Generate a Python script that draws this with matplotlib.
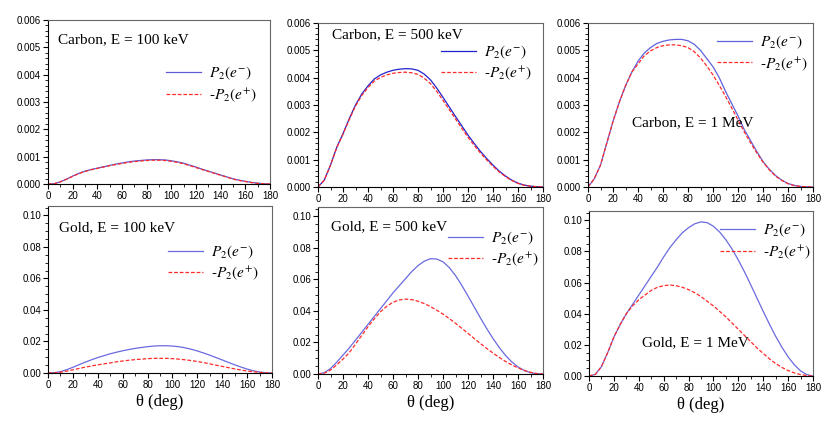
import numpy as np
import matplotlib
matplotlib.use("Agg")
import matplotlib.pyplot as plt
from matplotlib.ticker import MultipleLocator, AutoMinorLocator, FormatStrFormatter

plt.rcParams['font.family'] = ['Liberation Sans', 'DejaVu Sans']
plt.rcParams['mathtext.fontset'] = 'stix'

theta = list(range(0, 181, 5))

carbon_100_em = [0, 0.00001, 0.00008, 0.00018, 0.00029, 0.00039, 0.00047, 0.00053, 0.00058, 0.00063,
                 0.00068, 0.00073, 0.00077, 0.00081, 0.00084, 0.00086, 0.00088, 0.00089, 0.00089, 0.00088,
                 0.00085, 0.00081, 0.00076, 0.00069, 0.00062, 0.00054, 0.00047, 0.00040, 0.00033, 0.00026,
                 0.00019, 0.00014, 0.00010, 0.00006, 0.00003, 0.00001, 0]
carbon_100_ep = [0, 0.00001, 0.00008, 0.00017, 0.00028, 0.00038, 0.00046, 0.00052, 0.00057, 0.00062,
                 0.00067, 0.00071, 0.00075, 0.00079, 0.00082, 0.00084, 0.00086, 0.00087, 0.00087, 0.00086,
                 0.00083, 0.00079, 0.00074, 0.00067, 0.00060, 0.00053, 0.00046, 0.00039, 0.00032, 0.00025,
                 0.00018, 0.00013, 0.00009, 0.00005, 0.00002, 0.00001, 0]

carbon_500_em = [0, 0.00025, 0.0008, 0.00145, 0.00195, 0.0025, 0.0030, 0.0034, 0.0037, 0.00395,
                 0.0041, 0.0042, 0.00427, 0.00431, 0.00433, 0.00432, 0.00427, 0.00413, 0.00392, 0.00362,
                 0.00328, 0.00293, 0.00258, 0.00224, 0.0019, 0.00159, 0.0013, 0.00104, 0.0008, 0.00058,
                 0.0004, 0.00025, 0.00014, 0.00007, 0.00003, 0.00001, 0]
carbon_500_ep = [0, 0.00025, 0.0008, 0.00144, 0.00193, 0.00247, 0.00296, 0.00335, 0.00364, 0.00387,
                 0.00401, 0.0041, 0.00416, 0.00419, 0.0042, 0.00418, 0.00412, 0.00398, 0.00378, 0.0035,
                 0.00317, 0.00283, 0.00249, 0.00215, 0.00182, 0.00152, 0.00124, 0.00099, 0.00076, 0.00055,
                 0.00038, 0.00024, 0.00013, 0.00006, 0.00003, 0.00001, 0]

carbon_1m_em = [0, 0.0003, 0.0008, 0.0016, 0.0024, 0.0031, 0.0037, 0.0042, 0.0046, 0.0049,
                0.0051, 0.00525, 0.00533, 0.00538, 0.0054, 0.0054, 0.00535, 0.00522, 0.0050, 0.0047,
                0.0044, 0.0040, 0.0035, 0.00305, 0.0026, 0.0021, 0.0017, 0.0013, 0.00093, 0.00065,
                0.00042, 0.00025, 0.00013, 0.00006, 0.00002, 0.000005, 0]
carbon_1m_ep = [0, 0.0003, 0.0008, 0.0016, 0.0024, 0.0031, 0.0037, 0.0042, 0.0045, 0.0048,
                0.00498, 0.0051, 0.00517, 0.0052, 0.0052, 0.00517, 0.0051, 0.00495, 0.00472, 0.00443,
                0.0041, 0.00372, 0.00332, 0.00289, 0.00245, 0.00202, 0.00162, 0.00125, 0.00091, 0.00063,
                0.0004, 0.00024, 0.00012, 0.00005, 0.00002, 0.000005, 0]

gold_100_em = [0, 0.0002, 0.0008, 0.0021, 0.0036, 0.0053, 0.0069, 0.0084, 0.0098, 0.0110,
               0.0122, 0.0132, 0.0141, 0.0149, 0.0156, 0.0162, 0.0167, 0.0171, 0.0173, 0.0173,
               0.0171, 0.0167, 0.0160, 0.0151, 0.0140, 0.0127, 0.0113, 0.0098, 0.0083, 0.0067,
               0.0052, 0.0038, 0.0025, 0.0014, 0.0006, 0.0002, 0]
gold_100_ep = [0, 0.0001, 0.0005, 0.0012, 0.0020, 0.0029, 0.0037, 0.0045, 0.0052, 0.0058,
               0.0064, 0.0071, 0.0076, 0.0081, 0.0085, 0.0088, 0.0091, 0.0093, 0.0093, 0.0093,
               0.0091, 0.0088, 0.0084, 0.0079, 0.0073, 0.0066, 0.0058, 0.0050, 0.0042, 0.0034,
               0.0026, 0.0019, 0.0013, 0.0008, 0.0004, 0.0001, 0]

gold_500_em = [0, 0.0008, 0.0035, 0.0075, 0.0120, 0.0165, 0.0215, 0.0265, 0.0315, 0.0365,
               0.0415, 0.0465, 0.0515, 0.0560, 0.0605, 0.0650, 0.0688, 0.0716, 0.0732, 0.0730,
               0.0712, 0.0676, 0.0625, 0.0563, 0.0495, 0.0425, 0.0355, 0.0288, 0.0225, 0.0168,
               0.0118, 0.0077, 0.0045, 0.0022, 0.0008, 0.0002, 0]
gold_500_ep = [0, 0.0005, 0.0025, 0.0058, 0.0095, 0.0135, 0.0190, 0.0245, 0.0300, 0.0350,
               0.0395, 0.0430, 0.0455, 0.0470, 0.0475, 0.0472, 0.0462, 0.0447, 0.0428, 0.0405,
               0.0380, 0.0352, 0.0322, 0.0290, 0.0258, 0.0225, 0.0193, 0.0162, 0.0133, 0.0105,
               0.0080, 0.0058, 0.0039, 0.0023, 0.0011, 0.0003, 0]

gold_1m_em = [0, 0.001, 0.006, 0.015, 0.025, 0.033, 0.040, 0.046, 0.052, 0.058,
              0.064, 0.070, 0.0765, 0.0825, 0.0875, 0.0920, 0.0953, 0.0978, 0.0990, 0.0985,
              0.0962, 0.0925, 0.0875, 0.0815, 0.0745, 0.0668, 0.0585, 0.0500, 0.0415, 0.0333,
              0.0255, 0.0185, 0.0123, 0.0072, 0.0033, 0.0009, 0]
gold_1m_ep = [0, 0.001, 0.006, 0.015, 0.025, 0.033, 0.040, 0.045, 0.049, 0.052,
              0.055, 0.057, 0.058, 0.0585, 0.058, 0.057, 0.0555, 0.0535, 0.051, 0.048,
              0.045, 0.0415, 0.038, 0.034, 0.030, 0.026, 0.022, 0.018, 0.0145, 0.011,
              0.008, 0.0055, 0.0035, 0.002, 0.0009, 0.0003, 0]

titles = ["Carbon, E = 100 keV", "Carbon, E = 500 keV", "Carbon, E = 1 MeV",
          "Gold, E = 100 keV", "Gold, E = 500 keV", "Gold, E = 1 MeV"]
label_em = r"$P_2(e^{-})$"
label_ep = r"-$P_2(e^{+})$"
xlabel = r"θ (deg)"

series = [(carbon_100_em, carbon_100_ep), (carbon_500_em, carbon_500_ep), (carbon_1m_em, carbon_1m_ep),
          (gold_100_em, gold_100_ep), (gold_500_em, gold_500_ep), (gold_1m_em, gold_1m_ep)]

W, H = 830, 426
# axes boxes in pixels: left, right, top, bottom
boxes = [(48, 270, 20, 184), (318, 543, 23, 187), (588, 813, 23, 187),
         (48, 272, 206, 373), (318, 543, 207, 374), (589, 813, 211, 376)]
title_pos = [(0.045, 0.88), (0.062, 0.93), (0.196, 0.39), (0.05, 0.87), (0.058, 0.88), (0.237, 0.20)]
leg_pos = [(0.94, 0.725), (0.95, 0.875), (0.975, 0.935), (0.94, 0.775), (0.98, 0.865), (0.99, 0.935)]
blue_cols = ['#5b5bd6', '#2222cc', '#6060dd', '#6a6ae0', '#6a6ae0', '#6a6ae0']

fig = plt.figure(figsize=(W / 100, H / 100), dpi=100)
serif = ['Liberation Serif', 'DejaVu Serif']
for i, (box, (em, ep)) in enumerate(zip(boxes, series)):
    l, r, t, b = box
    ax = fig.add_axes([l / W, 1 - b / H, (r - l) / W, (b - t) / H])
    ax.plot(theta, em, color=blue_cols[i], lw=0.9, label=label_em)
    ax.plot(theta, ep, color='#ff2a2a', lw=0.9, ls=(0, (3, 1.5)), label=label_ep)
    ax.set_xlim(0, 180)
    ax.xaxis.set_major_locator(MultipleLocator(20))
    ax.xaxis.set_minor_locator(MultipleLocator(10))
    if i < 3:
        ax.set_ylim(0, 0.006)
        ax.yaxis.set_major_locator(MultipleLocator(0.001))
        ax.yaxis.set_minor_locator(AutoMinorLocator(5))
        ax.yaxis.set_major_formatter(FormatStrFormatter('%.3f'))
    else:
        ax.set_ylim(0, 0.106)
        ax.yaxis.set_major_locator(MultipleLocator(0.02))
        ax.yaxis.set_minor_locator(AutoMinorLocator(4))
        ax.yaxis.set_major_formatter(FormatStrFormatter('%.2f'))
        ax.set_xlabel(xlabel, family=serif, fontsize=12, labelpad=3)
    ax.tick_params(which='both', direction='out', top=False, right=False, labelsize=7, pad=1.5)
    ax.tick_params(which='major', length=3.5, width=0.8)
    ax.tick_params(which='minor', length=2, width=0.6)
    for s in ['top', 'right']:
        ax.spines[s].set_color('#666666')
        ax.spines[s].set_linewidth(0.8)
    for s in ['left', 'bottom']:
        ax.spines[s].set_linewidth(0.8)
    ax.text(title_pos[i][0], title_pos[i][1], titles[i], transform=ax.transAxes,
            family=serif, fontsize=11, va='center', ha='left')
    ax.legend(loc='upper right', bbox_to_anchor=leg_pos[i], frameon=False, fontsize=11,
              handlelength=2.3, handletextpad=0.5, labelspacing=0.25, borderaxespad=0,
              borderpad=0)

fig.savefig("out.png", dpi=100)
